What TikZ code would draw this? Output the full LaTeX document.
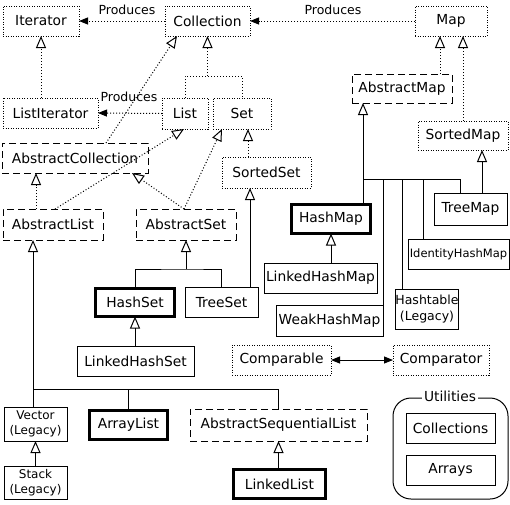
\documentclass[tikz,border=0pt]{standalone}
\usepackage{fontspec}
\setmainfont{DejaVu Sans}
\usetikzlibrary{arrows.meta}
\begin{document}
\begin{tikzpicture}[x=1pt,y=-1pt,line width=1pt,
  box/.style={draw,inner sep=0pt,outer sep=0pt,align=center,font=\fontsize{13.8}{16}\selectfont},
  dotbox/.style={box,dash pattern=on 1pt off 1.5pt},
  dashbox/.style={box,dash pattern=on 7pt off 4pt},
  solidbox/.style={box},
  thickbox/.style={box,line width=3pt},
  small/.style={font=\fontsize{11.5}{15}\selectfont},
  legacy/.style={font=\fontsize{12}{15}\selectfont},
  sz/.style 2 args={minimum width=#1pt,minimum height=#2pt},
  dotline/.style={dash pattern=on 1pt off 2pt},
  hollow/.style={-{Triangle[open,length=12pt,width=10pt]}},
  filled/.style={-{Triangle[length=9pt,width=7pt]}},
  lbl/.style={inner sep=0pt,font=\fontsize{12.5}{14}\selectfont}]
\useasboundingbox (0,0) rectangle (510,504);
% interfaces
\node[dotbox,sz={76}{30}] (iter) at (41,21) {Iterator};
\node[dotbox,sz={85}{30}] (coll) at (207.5,21) {Collection};
\node[dotbox,sz={72}{30}] (map) at (451,21) {Map};
\node[dotbox,sz={95}{30}] (listit) at (50.5,113) {ListIterator};
\node[dotbox,sz={46}{31}] (list) at (185,113.5) {List};
\node[dotbox,sz={58}{31}] (set) at (242,113.5) {Set};
\node[dotbox,sz={89}{31}] (sortedset) at (266.5,172.5) {SortedSet};
\node[dotbox,sz={90}{29}] (sortedmap) at (463,135.5) {SortedMap};
\node[dotbox,sz={99}{30}] (comparable) at (281.5,360) {Comparable};
\node[dotbox,sz={96}{30}] (comparator) at (441,360) {Comparator};
% abstract classes
\node[dashbox,sz={100}{29}] (absmap) at (402,88.5) {AbstractMap};
\node[dashbox,sz={146}{30}] (abscoll) at (75,158) {AbstractCollection};
\node[dashbox,sz={100}{31}] (abslist) at (53,224.5) {AbstractList};
\node[dashbox,sz={100}{31}] (absset) at (186,224.5) {AbstractSet};
\node[dashbox,sz={177}{32}] (asl) at (278.5,425) {AbstractSequentialList};
% concrete classes
\node[thickbox,sz={79}{29}] (hashmap) at (331,219) {HashMap};
\node[solidbox,sz={73}{32}] (treemap) at (470.5,209) {TreeMap};
\node[solidbox,small,sz={101}{30}] (identity) at (458.5,254) {IdentityHashMap};
\node[solidbox,sz={113}{30}] (lhm) at (320.5,278) {LinkedHashMap};
\node[thickbox,sz={79}{28}] (hashset) at (135,302.5) {HashSet};
\node[solidbox,sz={73}{30}] (treeset) at (221.5,302) {TreeSet};
\node[solidbox,sz={60}{40},font=\fontsize{12.5}{16}\selectfont] (hashtable) at (427,309) {Hashtable\\(Legacy)};
\node[solidbox,sz={107}{31}] (weak) at (329.5,320.5) {WeakHashMap};
\node[solidbox,sz={117}{30}] (lhs) at (135.5,361) {LinkedHashSet};
\node[solidbox,legacy,sz={63}{34}] (vector) at (35.5,424) {Vector\\(Legacy)};
\node[thickbox,sz={78}{29}] (arraylist) at (128.5,425) {ArrayList};
\node[solidbox,legacy,sz={63}{33}] (stack) at (35.5,482.5) {Stack\\(Legacy)};
\node[thickbox,sz={92}{29}] (linkedlist) at (279.5,484) {LinkedList};
% utilities
\node[draw,rounded corners=18pt,sz={115}{101},inner sep=0pt] (util) at (450.5,448.5) {};
\node[fill=white,inner sep=2pt,font=\fontsize{13.8}{16}\selectfont] (utl) at (450,396) {Utilities};
\node[solidbox,sz={89}{30}] (collections) at (450.5,428) {Collections};
\node[solidbox,sz={89}{30}] (arrays) at (450.5,470) {Arrays};
% Produces
\draw[dotline,filled] (coll.west) -- (iter.east);
\node[lbl] (p1) at (127,10) {Produces};
\draw[dotline,filled] (map.west) -- (coll.east);
\node[lbl] (p2) at (333,10) {Produces};
\draw[dotline,filled] (list.west) -- (listit.east);
\node[lbl] (p3) at (129,97) {Produces};
% interface inheritance
\draw[dotline,hollow] (listit.north -| iter.south) -- (iter.south);
\coordinate (bcoll) at (207.5,76);
\draw[dotline] (list.north) |- (bcoll) -| (set.north);
\draw[dotline,hollow] (bcoll) -- (coll.south);
\draw[dotline,hollow] ([xshift=6]sortedset.north -| set.south) -- ([xshift=6]set.south);
\draw[dotline,hollow] ([xshift=-11]absmap.north -| map.south) -- ([xshift=-11]map.south);
\draw[dotline,hollow] (sortedmap.north) -- ([xshift=12]map.south);
% abstract
\draw[dotline,hollow] ([xshift=31]abscoll.north) -- ([xshift=-30.5]coll.south);
\draw[dotline,hollow] ([xshift=2]abslist.north) -- ([xshift=-1]list.south);
\draw[dotline,hollow] ([xshift=-17]abslist.north) -- ([xshift=-39]abscoll.south);
\draw[dotline,hollow] ([xshift=-2]absset.north) -- ([xshift=57]abscoll.south);
\draw[dotline,hollow] ([xshift=-2]absset.north) -- ([xshift=-20]set.south);
% sets
\draw[hollow] ([xshift=28.5]treeset.north) -- ([xshift=-16.5]sortedset.south);
\coordinate (bset) at (186,269);
\draw (hashset.north) |- (bset) -| (treeset.north);
\draw[hollow] (bset) -- (absset.south);
\draw[hollow] (lhs.north -| hashset.south) -- (hashset.south);
% lists
\coordinate (blist) at (33,389);
\draw[hollow] ([xshift=-2.5]vector.north) -- ([xshift=-20]abslist.south);
\draw (blist) -- (blist -| asl.north) -- (asl.north);
\draw (arraylist.north) -- (arraylist.north |- blist);
\draw[hollow] (stack.north) -- (vector.south);
\draw[hollow] (linkedlist.north -| asl.south) -- (asl.south);
% maps
\coordinate (bmap) at (363,179);
\draw[hollow] ([xshift=32]hashmap.north) -- ([xshift=-39]absmap.south);
\draw (bmap) -| ([xshift=-10.5]treemap.north);
\draw (weak.north east) -- (weak.north east |- bmap);
\draw ([xshift=-25]hashtable.north) -- ([xshift=-25]hashtable.north |- bmap);
\draw ([xshift=-35.5]identity.north) -- ([xshift=-35.5]identity.north |- bmap);
\draw[hollow] ([xshift=11.5]treemap.north) -- ([xshift=19]sortedmap.south);
\draw[hollow] ([xshift=10.5]lhm.north) -- (hashmap.south);
% comparable
\draw[{Triangle[length=9pt,width=7pt]}-{Triangle[length=9pt,width=7pt]}] (comparable.east) -- (comparator.west);
\end{tikzpicture}
\end{document}
